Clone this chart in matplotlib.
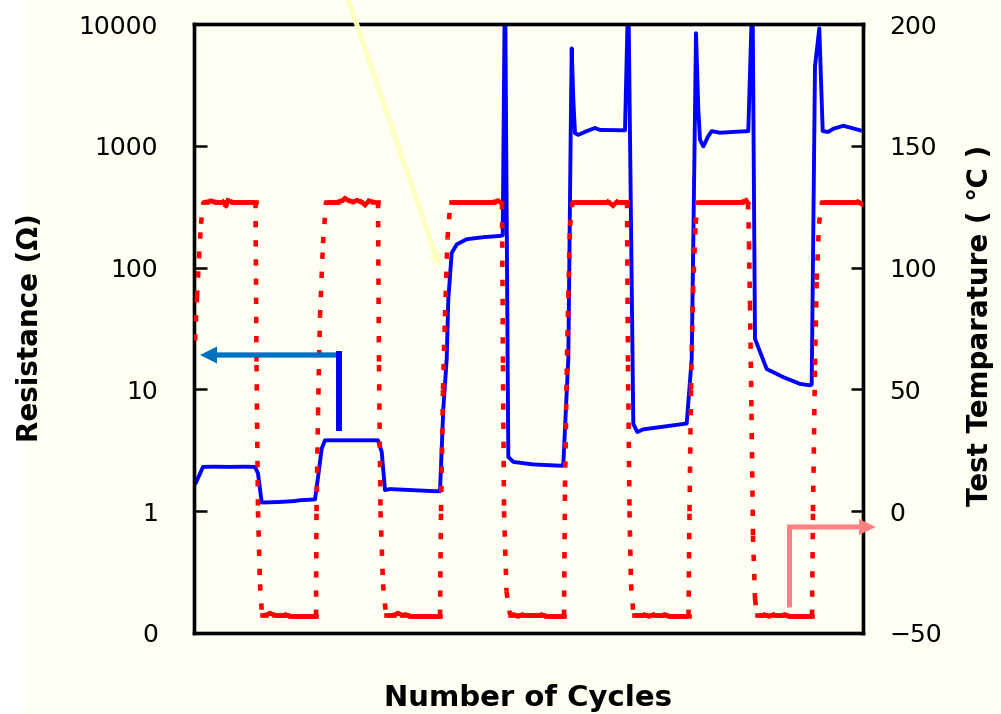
import numpy as np
import matplotlib
matplotlib.use("Agg")
import matplotlib.pyplot as plt
from matplotlib.collections import LineCollection
from matplotlib.patches import Rectangle, FancyArrow
from matplotlib.lines import Line2D
from matplotlib.ticker import FixedLocator, FixedFormatter, NullLocator
from matplotlib.transforms import IdentityTransform

plt.rcParams['font.family'] = ['DejaVu Sans', 'Noto Sans CJK JP']
plt.rcParams['lines.scale_dashes'] = False

# ---------------- data (x = elapsed time, arbitrary units) ----------------
t_temp = [1, 3, 5, 7, 9.5, 13, 17, 21, 25, 29, 32, 34, 38, 42, 46, 50, 54, 58, 61.5,
          62.5, 64, 66, 68, 72, 76, 80, 84, 88, 92, 96, 100, 104, 108, 112, 116, 120, 122,
          122.5, 124, 126, 129, 132, 136, 140, 144, 148, 151, 155, 159, 163, 167, 171, 175, 179, 184,
          185, 186.5, 189, 192, 196, 200, 204, 208, 212, 216, 220, 224, 228, 232, 236, 240, 244, 246,
          247, 249, 251, 253.5, 256.5, 260, 264, 268, 272, 276, 280, 284, 288, 292, 296, 300, 304, 308,
          309, 310, 312.5, 316, 320, 324, 328, 332, 336, 340, 344, 348, 352, 356, 360, 364, 368, 370,
          371, 372.7, 374.3, 376, 378.5, 382, 386, 390, 394, 398, 402, 406, 410, 414, 419, 423, 427, 431, 433,
          434, 435.5, 437, 439.5, 443, 447, 451, 455, 459, 463, 467, 471, 475, 479, 483, 487, 491, 494.5,
          495.5, 497, 499, 501.5, 504, 508, 512, 516, 520, 524, 528, 532, 536, 540, 544, 548, 552, 554,
          555, 556, 557.5, 559, 561, 563, 567, 571, 575, 579, 583, 587, 591, 595, 599, 603, 607, 611, 615, 618,
          619, 621, 622.7, 625, 628, 632, 636, 640, 644, 648, 652, 656, 660, 664, 668]
temp = [70, 88, 104, 118, 127, 127, 127.3, 127, 127, 127, 125.5, 127.5, 127, 127, 127, 127, 127, 127, 127,
        60, 0, -30, -42.5, -42.5, -42, -42.5, -42.5, -42.5, -42.5, -43, -43, -43, -43, -43, -43, -43, -43,
        0, 40, 80, 110, 127, 127, 127, 127, 127.5, 128.3, 127.5, 127, 127.5, 127, 125.8, 127.3, 127, 127,
        60, 0, -30, -42.5, -42.5, -42.5, -42, -42.5, -42.5, -43, -43, -43, -43, -43, -43, -43, -43, -43,
        0, 50, 80, 112, 127, 127, 127, 127, 127, 127, 127, 127, 127, 127, 127, 127, 127.3, 126.5,
        60, 0, -33, -42.5, -42.5, -43, -42.5, -42.5, -42.5, -42.5, -42.5, -42.5, -43, -43, -43, -43, -43, -43,
        10, 56, 88, 117, 127, 127, 127, 127, 127, 127, 127, 127, 127, 127, 125.5, 127, 127, 127, 127,
        60, 0, -30, -42.5, -42.5, -42.5, -42.5, -43, -42.5, -42.5, -42.5, -42.5, -43, -43, -43, -43, -43, -43,
        0, 50, 90, 118, 127, 127, 127, 127, 127, 127, 127, 127, 127, 127, 127, 127, 127.5, 126.5,
        110, 85, 40, -10, -36, -42.5, -42.5, -42.5, -43, -42.5, -42.5, -42.5, -42.5, -43, -43, -43, -43, -43, -43, -43,
        0, 60, 95, 118, 127, 127, 127, 127, 127, 127, 127, 127, 127, 127, 126]

t_res = [2, 9, 20, 35, 50, 61, 64, 67.7, 71, 85, 100, 106, 121, 124.3, 127.7, 131, 150, 170, 184,
         187.7, 191, 196, 210, 225, 240, 246, 249.3, 252.7, 254.3, 257.7, 262.7, 272.7, 290, 306,
         308.7, 311, 314.3, 319.3, 339.3, 367.7, 369.3, 372.7, 374.3, 376, 376.7, 377.7, 379.3, 381,
         384.3, 392.7, 401, 406, 431, 434.3, 439.3, 443.3, 449.3, 466, 492.7, 497.7, 500.3, 502,
         504.3, 506, 509.3, 514.3, 517.7, 526, 539.3, 554.3, 558.5, 561, 572.7, 589.3, 606, 616,
         617.7, 621, 625.3, 628.7, 634.3, 639.3, 649.3, 657.7, 666]
res = [1.72, 2.31, 2.32, 2.31, 2.32, 2.31, 2.04, 1.18, 1.18, 1.19, 1.21, 1.23, 1.25, 1.98, 3.27, 3.82,
       3.82, 3.82, 3.82, 3.07, 1.49, 1.52, 1.5, 1.48, 1.46, 1.46, 6.9, 17.8, 55, 132, 155, 171, 178,
       182, 184, 30000, 2.79, 2.54, 2.42, 2.36, 2.4, 9.5, 17.8, 363, 1260, 6300, 2400, 1270, 1230,
       1320, 1400, 1350, 1340, 20000, 5.2, 4.47, 4.7, 4.9, 5.25, 17.8, 680, 8400, 2000, 1120, 990,
       1200, 1320, 1280, 1300, 1320, 20000, 26, 14.7, 12.6, 11.1, 10.8, 11, 4500, 9200, 1320, 1300,
       1380, 1460, 1400, 1340]

res_ticks = [0.1, 1, 10, 100, 1000, 10000]
res_tick_labels = ['0', '1', '10', '100', '1000', '10000']
temp_ticks = [-50, 0, 50, 100, 150, 200]

W, H = 1001, 714
fig = plt.figure(figsize=(W / 100, H / 100), dpi=100)
fig.patch.set_facecolor('white')
fig.add_artist(Rectangle((25 / W, 0), 1 - 25 / W, 1, transform=fig.transFigure,
                         facecolor='#fefef3', edgecolor='none', zorder=-10))

L, R, T, B = 194, 863, 24, 633
ax = fig.add_axes([L / W, (H - B) / H, (R - L) / W, (B - T) / H])
ax.set_facecolor('none')
ax.set_yscale('log')
ax.set_ylim(0.1, 10000)
ax.set_xlim(0, 669)
ax.plot(t_res, res, color='#0000ff', lw=2.8, solid_joinstyle='round', zorder=3)
ax.yaxis.set_major_locator(FixedLocator(res_ticks))
ax.yaxis.set_major_formatter(FixedFormatter(res_tick_labels))
ax.yaxis.set_minor_locator(NullLocator())
ax.set_xticks([])
ax.tick_params(axis='y', direction='in', length=9, width=1.8, labelsize=18, pad=26)
for s in ax.spines.values():
    s.set_linewidth(2.4)

ax2 = ax.twinx()
ax2.set_ylim(-50, 200)
pts = np.column_stack([t_temp, temp])
segs = np.stack([pts[:-1], pts[1:]], axis=1)
# Excel-like dotted rendering: short segments appear solid, long ones dotted
steep = np.abs(segs[:, 1, 1] - segs[:, 0, 1]) > 4
lc_flat = LineCollection(segs[~steep], colors='#ff0000', linewidths=3.3,
                         capstyle='projecting', zorder=4)
lc_steep = LineCollection(segs[steep], colors='#ff0000', linewidths=3.3,
                          linestyles=[(0, (4.6, 9.2))], capstyle='butt', zorder=4)
ax2.add_collection(lc_flat)
ax2.add_collection(lc_steep)
ax2.set_yticks(temp_ticks)
ax2.tick_params(axis='y', direction='in', length=9, width=1.8, labelsize=18, pad=19)
for s in ax2.spines.values():
    s.set_linewidth(2.4)

# axis titles
fig.text(30 / W, 1 - 328 / H, 'Resistance (Ω)', rotation=90, ha='center', va='center',
         fontsize=20, fontweight='bold')
fig.text(980 / W, 1 - 325 / H, 'Test Temparature ( ℃ )', rotation=90, ha='center', va='center',
         fontsize=20, fontweight='bold')
fig.text(528 / W, 1 - 698 / H, 'Number of Cycles', ha='center', va='center',
         fontsize=21, fontweight='bold')

# annotation arrows (pixel coordinates, origin at bottom-left)
idt = IdentityTransform()
def P(x, y):
    return x, H - y

x0, y0 = P(336.7, 355)
fig.add_artist(FancyArrow(x0, y0, 200 - 336.7, 0, width=5.3, head_width=17, head_length=17,
                          length_includes_head=True, transform=idt, color='#0070c0', lw=0, zorder=5))
xa, ya = P(338.7, 351)
xb, yb = P(338.7, 431)
fig.add_artist(Line2D([xa, xb], [ya, yb], transform=idt, color='#0000ff', lw=4.3,
                      solid_capstyle='butt', zorder=5))

xa, ya = P(789.3, 607)
xb, yb = P(789.3, 525)
fig.add_artist(Line2D([xa, xb], [ya, yb], transform=idt, color='#ff8080', lw=3.6,
                      solid_capstyle='butt', zorder=5))
x0, y0 = P(787, 527)
fig.add_artist(FancyArrow(x0, y0, 876 - 787, 0, width=5, head_width=16, head_length=17,
                          length_includes_head=True, transform=idt, color='#ff8080', lw=0, zorder=5))

x0, y0 = P(345, -10)
x1, y1 = P(440, 268)
fig.add_artist(FancyArrow(x0, y0, x1 - x0, y1 - y0, width=5, head_width=12, head_length=14,
                          length_includes_head=True, transform=idt, color='#ffffc0', lw=0, zorder=2))

fig.savefig('out.png', dpi=100)
